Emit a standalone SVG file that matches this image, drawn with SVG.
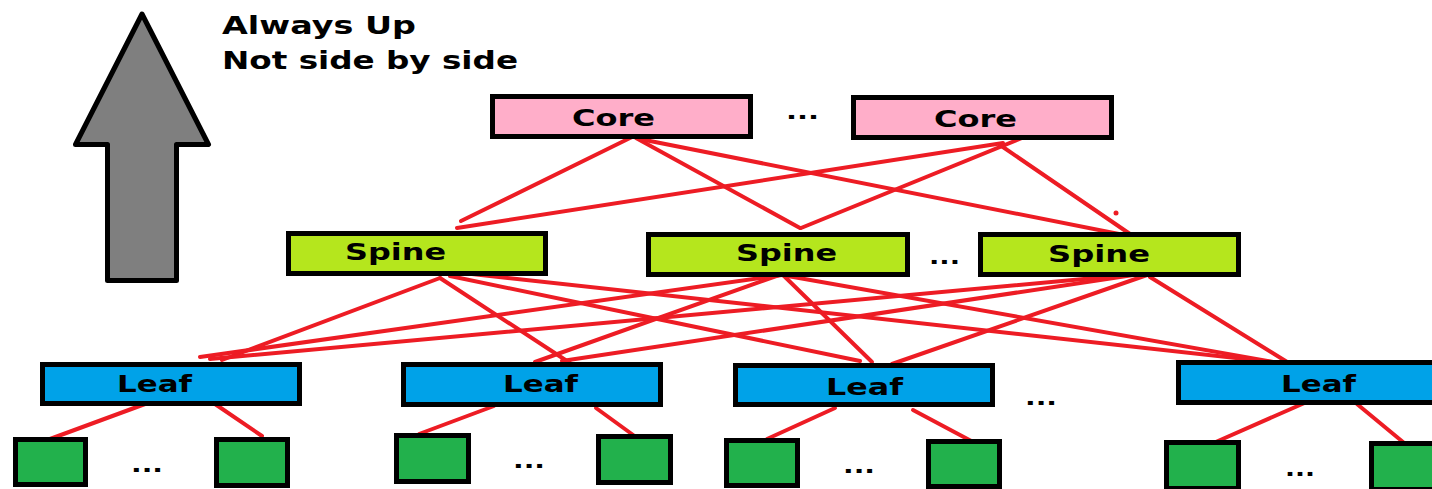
<svg xmlns="http://www.w3.org/2000/svg" width="1432" height="489" viewBox="0 0 1432 489">
<style>
.box{stroke:#000;stroke-width:5}
.core{fill:#FFAEC9}
.spine{fill:#B5E61D}
.leaf{fill:#00A2E8}
.srv{fill:#22B14C}
.lbl{font-family:"DejaVu Sans",Verdana,sans-serif;font-weight:bold;font-size:23px;fill:#000}
.hdr{font-family:"DejaVu Sans",Verdana,sans-serif;font-weight:bold;font-size:25px;fill:#000}
.dots{font-family:"DejaVu Sans",Verdana,sans-serif;font-weight:bold;font-size:22px;fill:#000}
#links line{stroke:#ED1C24;stroke-width:4;stroke-linecap:round}
</style>
<rect width="1432" height="489" fill="#fff"/>
<g id="up-arrow">
<polygon points="142,14 208.5,144.5 176.5,144.5 176.5,280.5 107.5,280.5 107.5,144.5 75.5,144.5" fill="#7F7F7F" stroke="#000" stroke-width="5" stroke-linejoin="round"/>
</g>
<g id="caption">
<text class="hdr" x="222" y="34" textLength="194" lengthAdjust="spacingAndGlyphs">Always Up</text>
<text class="hdr" x="222" y="69" textLength="296" lengthAdjust="spacingAndGlyphs">Not side by side</text>
</g>
<g id="links">
<line x1="632" y1="137" x2="461" y2="221"/>
<line x1="636" y1="138" x2="800" y2="228"/>
<line x1="640" y1="139" x2="1124" y2="235"/>
<line x1="1003" y1="143" x2="457" y2="228"/>
<line x1="1022" y1="138" x2="801" y2="228"/>
<line x1="1000" y1="145" x2="1130" y2="234"/>
<line x1="440" y1="278" x2="222" y2="360"/>
<line x1="440" y1="278" x2="570" y2="363"/>
<line x1="450" y1="276" x2="860" y2="361"/>
<line x1="463" y1="273" x2="1273" y2="362"/>
<line x1="782" y1="275" x2="200" y2="357"/>
<line x1="782" y1="274" x2="535" y2="362"/>
<line x1="782" y1="274" x2="872" y2="362"/>
<line x1="782" y1="275" x2="1273" y2="362"/>
<line x1="1127" y1="275" x2="210" y2="359"/>
<line x1="1140" y1="274" x2="562" y2="361"/>
<line x1="1147" y1="275" x2="892" y2="364"/>
<line x1="1150" y1="277" x2="1292" y2="365"/>
<line x1="145" y1="404" x2="50" y2="439"/>
<line x1="215" y1="404" x2="262" y2="436"/>
<line x1="494" y1="406" x2="419" y2="434"/>
<line x1="596" y1="408" x2="640" y2="440"/>
<line x1="835" y1="408" x2="767" y2="439"/>
<line x1="913" y1="410" x2="975" y2="443"/>
<line x1="1309" y1="401" x2="1209" y2="445"/>
<line x1="1357" y1="404" x2="1409" y2="447"/>
<circle cx="1116" cy="213" r="2.5" fill="#ED1C24"/>
</g>
<g id="core1"><rect class="box core" x="492.5" y="96.5" width="258" height="40"/><text class="lbl" x="572" y="126" textLength="83" lengthAdjust="spacingAndGlyphs">Core</text></g>
<g id="core2"><rect class="box core" x="853.5" y="97.5" width="258" height="40"/><text class="lbl" x="934" y="127" textLength="83" lengthAdjust="spacingAndGlyphs">Core</text></g>
<text class="dots" x="786" y="119" textLength="33" lengthAdjust="spacingAndGlyphs">...</text>
<g id="spine1"><rect class="box spine" x="288.5" y="233.5" width="257" height="40"/><text class="lbl" x="345" y="260" textLength="101" lengthAdjust="spacingAndGlyphs">Spine</text></g>
<g id="spine2"><rect class="box spine" x="648.5" y="234.5" width="259" height="40"/><text class="lbl" x="736" y="261" textLength="101" lengthAdjust="spacingAndGlyphs">Spine</text></g>
<g id="spine3"><rect class="box spine" x="980.5" y="234.5" width="258" height="40"/><text class="lbl" x="1048" y="262" textLength="102" lengthAdjust="spacingAndGlyphs">Spine</text></g>
<text class="dots" x="929" y="264" textLength="31" lengthAdjust="spacingAndGlyphs">...</text>
<g id="leaf1"><rect class="box leaf" x="42.5" y="364.5" width="257" height="39"/><text class="lbl" x="117" y="392" textLength="75" lengthAdjust="spacingAndGlyphs">Leaf</text></g>
<g id="leaf2"><rect class="box leaf" x="403.5" y="364.5" width="257" height="40"/><text class="lbl" x="503" y="392" textLength="75" lengthAdjust="spacingAndGlyphs">Leaf</text></g>
<g id="leaf3"><rect class="box leaf" x="735.5" y="365.5" width="257" height="39"/><text class="lbl" x="826" y="395" textLength="77" lengthAdjust="spacingAndGlyphs">Leaf</text></g>
<g id="leaf4"><rect class="box leaf" x="1178.5" y="362.5" width="257" height="40"/><text class="lbl" x="1281" y="392" textLength="75" lengthAdjust="spacingAndGlyphs">Leaf</text></g>
<text class="dots" x="1025" y="405" textLength="32" lengthAdjust="spacingAndGlyphs">...</text>
<g id="server1"><rect class="box srv" x="15.5" y="439.5" width="70" height="45"/></g>
<g id="server2"><rect class="box srv" x="216.5" y="439.5" width="71" height="46"/></g>
<g id="server3"><rect class="box srv" x="396.5" y="435.5" width="72" height="46"/></g>
<g id="server4"><rect class="box srv" x="598.5" y="436.5" width="72" height="46"/></g>
<g id="server5"><rect class="box srv" x="726.5" y="440.5" width="71" height="45"/></g>
<g id="server6"><rect class="box srv" x="928.5" y="441.5" width="71" height="45"/></g>
<g id="server7"><rect class="box srv" x="1166.5" y="442.5" width="72" height="46"/></g>
<g id="server8"><rect class="box srv" x="1371.5" y="443.5" width="71" height="46"/></g>
<text class="dots" x="131" y="472" textLength="32" lengthAdjust="spacingAndGlyphs">...</text>
<text class="dots" x="513" y="468" textLength="32" lengthAdjust="spacingAndGlyphs">...</text>
<text class="dots" x="843" y="473" textLength="32" lengthAdjust="spacingAndGlyphs">...</text>
<text class="dots" x="1285" y="476" textLength="30" lengthAdjust="spacingAndGlyphs">...</text>
</svg>
